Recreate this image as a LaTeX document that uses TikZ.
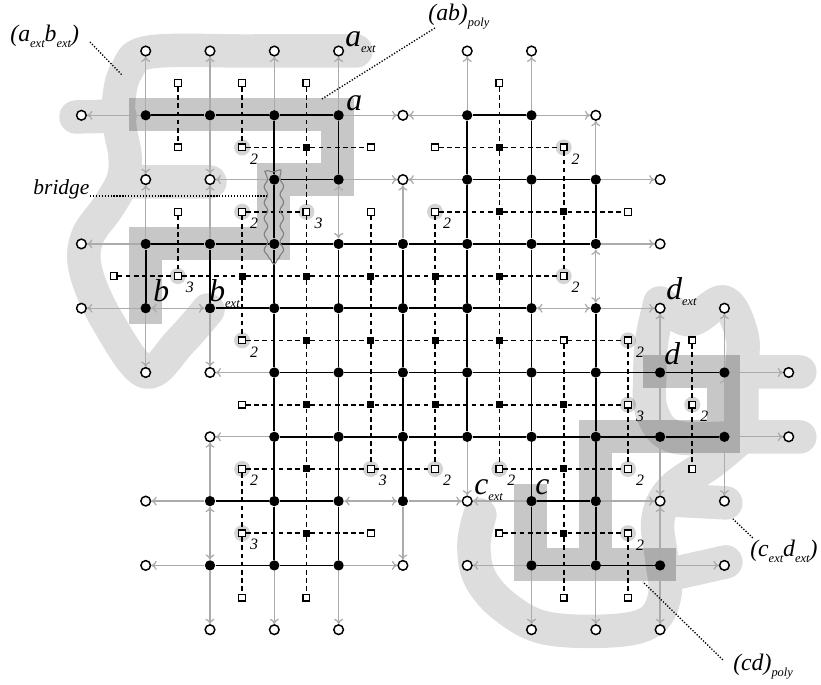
\documentclass[tikz,border=0pt]{standalone}
\usepackage{fontspec}
\setmainfont{Liberation Serif}
\usetikzlibrary{arrows.meta,decorations.pathmorphing}
\pgfdeclarelayer{bbg}
\pgfdeclarelayer{bg}
\pgfsetlayers{bbg,bg,main}
\newcommand{\subx}[1]{\raisebox{-2.4pt}{\fontsize{5.5}{6}\selectfont\itshape #1}}
\tikzset{
  fdot/.style={circle,fill=black,inner sep=0pt,minimum size=0.16cm},
  odot/.style={circle,draw=black,fill=white,line width=0.65pt,inner sep=0pt,minimum size=0.15cm},
  fsq/.style={rectangle,fill=black,inner sep=0pt,minimum size=0.11cm},
  osq/.style={rectangle,draw=black,fill=white,line width=0.55pt,inner sep=0pt,minimum size=0.105cm},
  hldisc/.style={circle,fill=black!17,inner sep=0pt,minimum size=0.25cm},
  blk/.style={line width=0.75pt,black},
  garr/.style={line width=0.55pt,black!33,-{To[length=2.4pt,width=4pt]}},
  gdbl/.style={line width=0.55pt,black!33,{To[length=2.4pt,width=4pt]}-{To[length=2.4pt,width=4pt]}},
  dual/.style={line width=0.75pt,black,dash pattern=on 2.1pt off 1.5pt},
  lead/.style={line width=0.6pt,black,dash pattern=on 0.55pt off 0.75pt},
  band/.style={line width=0.513cm,black,opacity=0.22,line cap=rect,line join=miter},
  blob/.style={line width=0.52cm,black,opacity=0.135,line cap=round,line join=round},
  deg/.style={inner sep=0pt,font=\fontsize{7}{8}\selectfont\itshape},
  big/.style={inner sep=0pt,anchor=base west,font=\fontsize{14}{15}\selectfont\itshape},
  mid/.style={inner sep=0pt,anchor=base west,font=\fontsize{10.5}{12}\selectfont\itshape},
  pxs/.style={shift={(-2.2659cm,0.7932cm)},x=0.015552cm,y=-0.015552cm},
}
\begin{document}
\begin{tikzpicture}
\useasboundingbox (-2.2659,0.7932) rectangle (10.5023,-9.8445);
% ---------- primal vertices ----------
\foreach \j/\l in {1/{0,1,2,3,5,6},2/{2,3,5,6,7},3/{0,1,2,3,4,5,6,7},4/{0,1,2,3,4,5,6,7},5/{2,3,4,5,6,7,8,9},6/{2,3,4,5,6,7,8,9},7/{1,2,3,4,6,7},8/{1,2,3,6,7,8}}
  {\foreach \i in \l {\node[fdot] (p\i-\j) at (\i,-\j) {};}}
\foreach \j/\l in {0/{0,1,2,3,5,6},1/{-1,4,7},2/{0,1,4,8},3/{-1,8},4/{-1,8,9},5/{0,1,10},6/{1,10},7/{0,5,8,9},8/{0,4,5,9},9/{1,2,3,6,7,8}}
  {\foreach \i in \l {\node[odot] (p\i-\j) at (\i,-\j) {};}}
% ---------- dual vertices ----------
\foreach \j/\l in {1/{2,5},2/{5,6},3/{1,2,3,4,5},4/{2,3,4,5},5/{2,3,4,5,6},6/{2,6},7/{2,6}}
  {\foreach \i in \l {\node[fsq] (s\i-\j) at (\i+0.5,-\j-0.5) {};}}
\foreach \j/\l in {0/{0,1,2,5},1/{0,3,4},2/{0,3,7},3/{-1},4/{6,8},5/{1},6/{8},7/{3,5},8/{1,2,6,7}}
  {\foreach \i in \l {\node[osq] (s\i-\j) at (\i+0.5,-\j-0.5) {};}}
\foreach \j/\l in {1/{1,6},2/{1,4},3/{6},4/{1,7},5/{8},6/{1,4,5,7},7/{7}}
  {\foreach \i in \l {
    \node[osq] (s\i-\j) at (\i+0.5,-\j-0.5) {};
    \begin{pgfonlayer}{bbg}\node[hldisc] (h\i-\j) at (\i+0.5,-\j-0.5) {};\end{pgfonlayer}
    \node[deg] (n\i-\j) at (\i+0.687,-\j-0.679) {2};}}
\foreach \j/\l in {2/{2},3/{0},5/{7},6/{3},7/{1}}
  {\foreach \i in \l {
    \node[osq] (s\i-\j) at (\i+0.5,-\j-0.5) {};
    \begin{pgfonlayer}{bbg}\node[hldisc] (h\i-\j) at (\i+0.5,-\j-0.5) {};\end{pgfonlayer}
    \node[deg] (n\i-\j) at (\i+0.687,-\j-0.679) {3};}}
% ---------- edges ----------
\begin{pgfonlayer}{bg}
\foreach \a/\b/\c/\d in {0/1/-1/1,3/1/4/1,5/1/4/1,6/1/7/1,2/2/1/2,3/2/4/2,5/2/4/2,7/2/8/2,0/3/-1/3,7/3/8/3,0/4/-1/4,7/4/8/4,2/5/1/5,9/5/10/5,2/6/1/6,9/6/10/6,1/7/0/7,4/7/5/7,6/7/5/7,7/7/8/7,1/8/0/8,3/8/4/8,6/8/5/8,8/8/9/8,
  0/1/0/0,0/1/0/2,0/3/0/2,0/4/0/5,1/1/1/0,1/1/1/2,1/3/1/2,1/4/1/5,1/7/1/6,1/8/1/9,2/1/2/0,2/8/2/9,3/1/3/0,3/8/3/9,4/3/4/2,4/7/4/8,5/1/5/0,5/6/5/7,6/1/6/0,6/8/6/9,7/2/7/1,7/8/7/9,8/5/8/4,8/6/8/7,8/8/8/7,8/8/8/9,9/5/9/4,9/6/9/7}
  {\draw[garr] (p\a-\b) -- (p\c-\d);}
\foreach \a/\b/\c/\d in {0/4/1/4,6/4/7/4,3/7/4/7,3/2/3/3,7/3/7/4,1/7/1/8,8/5/8/6,9/5/9/6}
  {\draw[gdbl] (p\a-\b) -- (p\c-\d);}
\foreach \j/\l in {1/{0,1,2,5},2/{2,5,6},3/{0,1,2,3,4,5,6},4/{1,2,3,4,5},5/{2,3,4,5,6,7,8},6/{2,3,4,5,6,7,8},7/{1,2,6},8/{1,2,6,7}}
  {\foreach \i in \l {
    \pgfmathtruncatemacro\k{\i+1}\pgfmathtruncatemacro\m{\j-1}
    \draw[blk] (p\i-\j) -- (p\k-\j);
    \draw[dual] (s\i-\m) -- (s\i-\j);}}
\foreach \i/\l in {0/{3},1/{3},2/{1,2,3,4,5,6,7},3/{1,3,4,5,6,7},4/{3,4,5,6},5/{1,2,3,4,5},6/{1,2,3,4,5,6,7},7/{2,4,5,6,7}}
  {\foreach \j in \l {
    \pgfmathtruncatemacro\k{\j+1}\pgfmathtruncatemacro\m{\i-1}
    \draw[blk] (p\i-\j) -- (p\i-\k);
    \draw[dual] (s\m-\j) -- (s\i-\j);}}
\end{pgfonlayer}
% ---------- regions ----------
\begin{pgfonlayer}{bbg}
\begin{scope}[pxs]
\draw[blob] plot[smooth,tension=0.6] coordinates {(356,51) (250,51) (150,52) (127,70) (119,98) (120,128) (125,155) (123,180) (108,207) (87,238) (86,272) (108,322) (146,372) (180,342) (208,310)}
  plot[smooth] coordinates {(120,116) (76,117)}
  plot[smooth] coordinates {(126,182) (210,182)};
\draw[blob] plot[smooth,tension=0.6] coordinates {(660,303) (690,320) (724,302) (742,335) (742,372) (742,437)}
  plot[smooth,tension=0.6] coordinates {(660,303) (652,340) (650,375) (652,412) (675,437) (742,437)}
  plot[smooth] coordinates {(742,372) (800,372)}
  plot[smooth] coordinates {(742,437) (800,437)}
  plot[smooth,tension=0.6] coordinates {(742,437) (712,462) (672,490) (658,520) (662,560) (665,595) (650,622) (610,631) (545,628) (505,607) (480,578) (474,545) (480,515)}
  plot[smooth] coordinates {(668,500) (726,503)}
  plot[smooth] coordinates {(668,575) (726,562)};
\draw[band] (146,115) -- (338,115) -- (338,180) -- (274,180) -- (274,244) -- (146,244) -- (146,308);
\draw[band] (531,501) -- (531,565) -- (660,565) (596,565) -- (596,437) -- (724,437) -- (724,372) -- (660,372);
\end{scope}
\end{pgfonlayer}
% ---------- labels ----------
\begin{scope}[pxs]
\draw[black!50,line width=0.5pt,decorate,decoration={snake,amplitude=0.8pt,segment length=7pt}] (266,174) -- (266,249) .. controls (266,260) and (282,260) .. (282,249) -- (282,174) .. controls (282,163) and (266,163) .. (266,174) -- cycle;
\node[big] (la) at (346,111) {a};
\node[big] (laext) at (345,47) {a\subx{ext}};
\node[big] (lb) at (153,302) {b};
\node[big] (lbext) at (209,302) {b\subx{ext}};
\node[big] (lc) at (535,495) {c};
\node[big] (lcext) at (474,495) {c\subx{ext}};
\node[big] (ld) at (664,365) {d};
\node[big] (ldext) at (666,300) {d\subx{ext}};
\node[mid] (lab) at (10,42) {(a\subx{ext}b\subx{ext})};
\node[mid] (labpoly) at (428,21) {(ab)\subx{poly}};
\node[mid] (lcd) at (750,557) {(c\subx{ext}d\subx{ext})};
\node[mid] (lcdpoly) at (733,671) {(cd)\subx{poly}};
\node[inner sep=0pt,anchor=base west,font=\fontsize{9.5}{11}\selectfont\itshape] (lbridge) at (33,195) {bridge};
\coordinate (k1) at (90,42); \coordinate (k1t) at (122,75);
\coordinate (k2) at (435,28); \coordinate (k2t) at (322,99);
\coordinate (k3) at (90,196); \coordinate (k3t) at (267,196);
\coordinate (k4) at (753,538); \coordinate (k4t) at (733,519);
\coordinate (k5) at (723,660); \coordinate (k5t) at (643,582);
\draw[lead] (k1) -- (k1t);
\draw[lead] (k2) -- (k2t);
\draw[lead] (k3) -- (k3t);
\draw[lead] (k4) -- (k4t);
\draw[lead] (k5) -- (k5t);
\end{scope}
\end{tikzpicture}
\end{document}
